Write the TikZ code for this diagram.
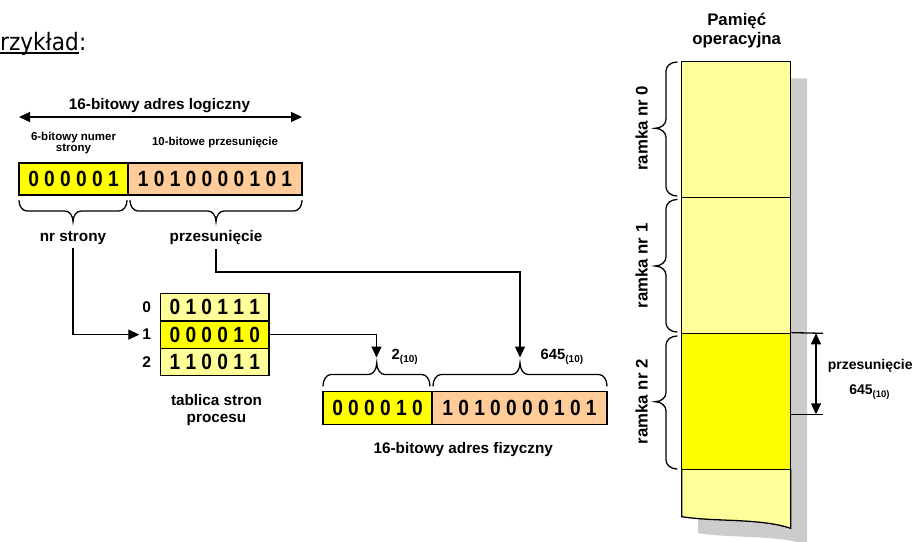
\documentclass[tikz,border=0pt]{standalone}
\usepackage{fontspec}
\usepackage{graphicx}
\setmainfont{Liberation Sans}
\newfontfamily\verdfont{DejaVu Sans}
\usetikzlibrary{arrows.meta}
\definecolor{yel}{HTML}{FFFF00}
\definecolor{lyel}{HTML}{FFFF99}
\definecolor{peach}{HTML}{FFCC99}
\definecolor{shadowgray}{HTML}{CCCCCC}
\newcommand\fsz[1]{\fontsize{#1}{#1}\selectfont}
\newcommand\digs[1]{\scalebox{0.87}[1]{\fsz{22}\bfseries #1}}
\newcommand\hbrace[5]{%
 \draw[ln] (#1,#4) .. controls (#1,{#4+0.552*(#5)}) and ({#1+3.6},{#4+(#5)}) .. ({#1+8},{#4+(#5)})
  -- ({#2-8},{#4+(#5)}) .. controls ({#2-3.6},{#4+(#5)}) and (#2,{#4+1.448*(#5)}) .. (#2,{#4+2*(#5)})
  .. controls (#2,{#4+1.448*(#5)}) and ({#2+3.6},{#4+(#5)}) .. ({#2+8},{#4+(#5)})
  -- ({#3-8},{#4+(#5)}) .. controls ({#3-3.6},{#4+(#5)}) and (#3,{#4+0.552*(#5)}) .. (#3,#4);}
\newcommand\vbrace[5]{%
 \draw[ln] (#4,#1) .. controls ({#4+0.552*(#5)},#1) and ({#4+(#5)},{#1+4}) .. ({#4+(#5)},{#1+9})
  -- ({#4+(#5)},{#2-9}) .. controls ({#4+(#5)},{#2-4}) and ({#4+1.448*(#5)},#2) .. ({#4+2*(#5)},#2)
  .. controls ({#4+1.448*(#5)},#2) and ({#4+(#5)},{#2+4}) .. ({#4+(#5)},{#2+9})
  -- ({#4+(#5)},{#3-9}) .. controls ({#4+(#5)},{#3-4}) and ({#4+0.552*(#5)},#3) .. (#4,#3);}
\tikzset{
 ln/.style={line width=1.3pt, line cap=round},
 arr/.style={line width=1.4pt, -{Triangle[length=11pt,width=10pt]}},
 darr/.style={line width=1.4pt, {Triangle[length=11pt,width=10pt]}-{Triangle[length=11pt,width=10pt]}},
 cell/.style={draw, line width=1.3pt, inner sep=0},
 lbl/.style={inner sep=0, font=\fsz{15.3}\bfseries},
 small/.style={inner sep=0, font=\fsz{11.5}\bfseries, align=center},
 mem/.style={draw, line width=1.3pt},
}
\begin{document}
\begin{tikzpicture}[x=1pt,y=-1pt]
\useasboundingbox (0,0) rectangle (915,541);
% title
\node[anchor=base west, inner sep=0, font=\verdfont\fsz{24}] (pzw) at (0,50) {\scalebox{0.9}[1]{rzykład}};
\node[anchor=base west, inner sep=0, font=\verdfont\fsz{24}] (pzc) at (pzw.base east) {\scalebox{0.9}[1]{:}};
\draw[line width=1.4pt] ([yshift=-2.8pt]pzw.base west) -- ([yshift=-2.8pt]pzw.base east);

% logical address
\node[lbl, anchor=base] (lahead) at (159.5,109) {16-bitowy adres logiczny};
\coordinate (lal) at (19,117);
\coordinate (lar) at (302,117);
\draw[darr] (lal) -- (lar);
\node[small] (l6) at (73.5,143) {6-bitowy numer\\[-0.5pt]strony};
\node[small, anchor=base] (l10) at (215,145.5) {10-bitowe przesunięcie};
\node[cell, fill=yel, minimum width=109pt, minimum height=32pt] (la1) at (73.5,179) {\digs{0 0 0 0 0 1}};
\node[cell, fill=peach, minimum width=174pt, minimum height=32pt] (la2) at (215,179) {\digs{1 0 1 0 0 0 0 1 0 1}};
\hbrace{19}{73}{127}{200.5}{10.5}
\hbrace{130}{216}{302}{200.5}{10.5}
\node[lbl, anchor=base] (nrs) at (73,241) {nr strony};
\node[lbl, anchor=base] (prz) at (216,241) {przesunięcie};

% page table
\node[cell, fill=lyel, minimum width=108.3pt, minimum height=27.3pt] (r0) at (214.8,307.3) {\digs{0 1 0 1 1 1}};
\node[cell, fill=yel, minimum width=108.3pt, minimum height=27.3pt] (r1) at (214.8,334.6) {\digs{0 0 0 0 1 0}};
\node[cell, fill=lyel, minimum width=108.3pt, minimum height=27.3pt] (r2) at (214.8,361.9) {\digs{1 1 0 0 1 1}};
\node[lbl, font=\fsz{15.5}\bfseries] (n0) at (146.8,307) {0};
\node[lbl, font=\fsz{15.5}\bfseries] (n1) at (146.8,334.6) {1};
\node[lbl, font=\fsz{15.5}\bfseries] (n2) at (146.8,362) {2};
\node[lbl, align=center] (tsp) at (216.5,410) {tablica stron\\[2.5pt]procesu};

% connectors
\draw[arr] ([yshift=-7pt]nrs.base) |- ([xshift=-3pt]n1.west);
\coordinate (t645) at (520,357.5);
\coordinate (t2) at (376.5,357.5);
\draw[arr] ([yshift=-8pt]prz.base) |- (520,272) -- (t645);
\draw[arr] (r1.east) -| (t2);

% physical address
\node[lbl, font=\fsz{14.8}\bfseries, anchor=base west] (v2) at (391.5,359.3) {2\raisebox{-3pt}{\fsz{10}(10)}};
\node[lbl, font=\fsz{14.8}\bfseries, anchor=base west] (v645) at (540.5,359.3) {645\raisebox{-3pt}{\fsz{10}(10)}};
\hbrace{323}{376.7}{430}{386}{-11.5}
\hbrace{433}{520}{607}{386}{-11.5}
\node[cell, fill=yel, minimum width=109pt, minimum height=33pt] (pa1) at (377.5,407.7) {\digs{0 0 0 0 1 0}};
\node[cell, fill=peach, minimum width=175pt, minimum height=33pt] (pa2) at (519.5,407.7) {\digs{1 0 1 0 0 0 0 1 0 1}};
\node[lbl, anchor=base] (pahead) at (463.3,453.3) {16-bitowy adres fizyczny};

% memory
\node[inner sep=0, font=\fsz{16.8}\bfseries, align=center] (memt) at (736.7,30.5) {Pamięć\\[2pt]operacyjna};
\fill[shadowgray] (698.2,78.3) -- (807.2,78.3) -- (807.2,544.8) .. controls (776.5,534.5) and (731.5,538.5) .. (698.2,533.2) -- cycle;
\draw[mem, fill=lyel] (681.7,469.3) -- (790.7,469.3) -- (790.7,528.3) .. controls (760,518) and (715,522) .. (681.7,516.7) -- cycle;
\node[mem, fill=lyel, minimum width=109pt, minimum height=135.6pt, inner sep=0] (f0) at (736.2,129.5) {};
\node[mem, fill=lyel, minimum width=109pt, minimum height=136pt, inner sep=0] (f1) at (736.2,265.3) {};
\node[mem, fill=yel, minimum width=109pt, minimum height=136pt, inner sep=0] (f2) at (736.2,401.3) {};
\vbrace{62}{128.3}{196}{677}{-11}
\vbrace{199.5}{266}{332}{677}{-11}
\vbrace{336}{401.7}{469}{677}{-11}
\node[inner sep=0, font=\fsz{16.8}\bfseries, rotate=90] (rk0) at (641.7,128.3) {ramka nr 0};
\node[inner sep=0, font=\fsz{16.8}\bfseries, rotate=90] (rk1) at (641.7,266) {ramka nr 1};
\node[inner sep=0, font=\fsz{16.8}\bfseries, rotate=90] (rk2) at (641.7,401.7) {ramka nr 2};
% offset indicator
\coordinate (ot) at (823,333.3);
\coordinate (ob) at (823,414.3);
\draw[line width=1.3pt] (f2.north east) -- (ot);
\draw[line width=1.3pt] (790.7,414.3) -- (ob);
\draw[darr] (816,333.3) -- (816,414.3);
\node[inner sep=0, font=\fsz{14}\bfseries, anchor=base] (mprz) at (870.2,369) {przesunięcie};
\node[inner sep=0, font=\fsz{14}\bfseries, anchor=base] (m645) at (869.5,394.5) {645\raisebox{-3pt}{\fsz{9.5}(10)}};
\end{tikzpicture}
\end{document}
